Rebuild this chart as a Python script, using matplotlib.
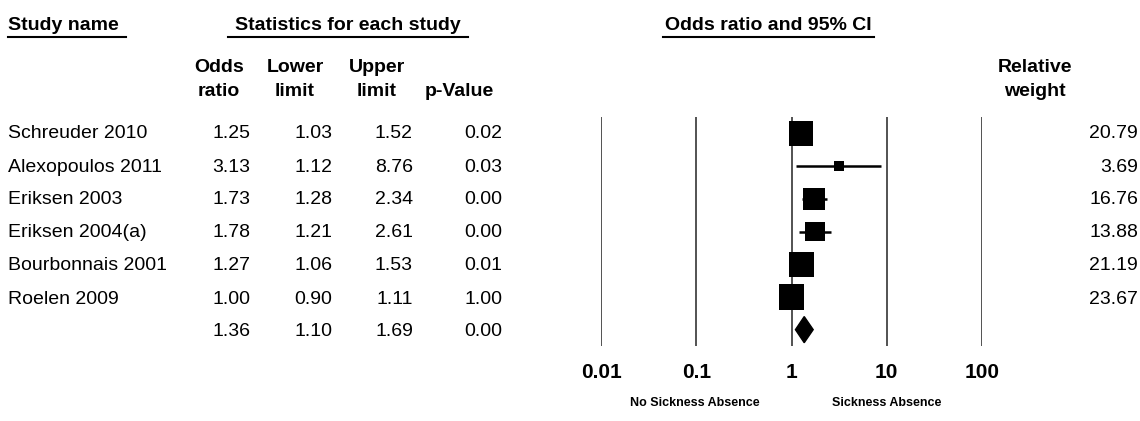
import numpy as np
import matplotlib.pyplot as plt
from matplotlib.lines import Line2D

plt.rcParams['font.family'] = ['Liberation Sans', 'DejaVu Sans']

studies = ['Schreuder 2010', 'Alexopoulos 2011', 'Eriksen 2003', 'Eriksen 2004(a)',
           'Bourbonnais 2001', 'Roelen 2009']
odds = [1.25, 3.13, 1.73, 1.78, 1.27, 1.00]
lower = [1.03, 1.12, 1.28, 1.21, 1.06, 0.90]
upper = [1.52, 8.76, 2.34, 2.61, 1.53, 1.11]
pvals = [0.02, 0.03, 0.00, 0.00, 0.01, 1.00]
weights = [20.79, 3.69, 16.76, 13.88, 21.19, 23.67]
pooled = (1.36, 1.10, 1.69, 0.00)
ticks = [0.01, 0.1, 1, 10, 100]
tick_labels = ['0.01', '0.1', '1', '10', '100']

W, H = 1140, 421
fig = plt.figure(figsize=(W / 100, H / 100), dpi=100)

def fx(px):
    return px / W

def fy(py):
    return 1 - py / H

def txt(x, y, s, ha='left', bold=False, size=14):
    fig.text(fx(x), fy(y), s, ha=ha, va='center', fontsize=size,
             fontweight='bold' if bold else 'normal', color='black')

def uline(x0, x1, y):
    fig.add_artist(Line2D([fx(x0), fx(x1)], [fy(y), fy(y)], color='black', lw=1.5,
                          transform=fig.transFigure))

# headers
txt(8, 25, 'Study name', bold=True)
uline(8, 126, 37)
txt(348, 25, 'Statistics for each study', ha='center', bold=True)
uline(228, 468, 37)
txt(768, 25, 'Odds ratio and 95% CI', ha='center', bold=True)
uline(663, 874, 37)
for cx, l1, l2 in [(219, 'Odds', 'ratio'), (295, 'Lower', 'limit'), (377, 'Upper', 'limit'),
                   (1035, 'Relative', 'weight')]:
    txt(cx, 67, l1, ha='center', bold=True)
    txt(cx, 92, l2, ha='center', bold=True)
txt(459, 92, 'p-Value', ha='center', bold=True)

# table rows
row0, step = 134, 33
for i in range(len(studies)):
    y = row0 + i * step
    txt(8, y, studies[i])
    txt(250, y, f'{odds[i]:.2f}', ha='right')
    txt(332, y, f'{lower[i]:.2f}', ha='right')
    txt(413, y, f'{upper[i]:.2f}', ha='right')
    txt(502, y, f'{pvals[i]:.2f}', ha='right')
    txt(1138, y, f'{weights[i]:.2f}', ha='right')
y = row0 + len(studies) * step
txt(250, y, f'{pooled[0]:.2f}', ha='right')
txt(332, y, f'{pooled[1]:.2f}', ha='right')
txt(413, y, f'{pooled[2]:.2f}', ha='right')
txt(502, y, f'{pooled[3]:.2f}', ha='right')

# forest plot
ax = fig.add_axes([fx(601), fy(346), fx(982) - fx(601), (346 - 117) / H])
ax.set_xscale('log')
ax.set_xlim(0.01, 100)
ax.set_ylim(6.5, -0.5)
for t in ticks:
    ax.axvline(t, color='#444444', lw=1.3, zorder=1)
rows = np.arange(len(studies))
ax.hlines(rows, lower, upper, color='black', lw=1.8, zorder=2)
ax.scatter(odds, rows, marker='s', s=np.array(weights) * 14.8, color='black',
           linewidths=0, zorder=3)
est, lo, hi = pooled[0], pooled[1], pooled[2]
r = len(studies)
ax.fill([lo, est, hi, est], [r, r - 0.4, r, r + 0.4], color='black', zorder=3)
for s in ax.spines.values():
    s.set_visible(False)
ax.set_yticks([])
ax.set_xticks(ticks)
ax.set_xticklabels(tick_labels, fontsize=15, fontweight='bold')
ax.minorticks_off()
ax.tick_params(axis='x', length=0, pad=12)

txt(695, 403, 'No Sickness Absence', ha='center', bold=True, size=9)
txt(887, 403, 'Sickness Absence', ha='center', bold=True, size=9)

fig.savefig('out.png', dpi=100)
